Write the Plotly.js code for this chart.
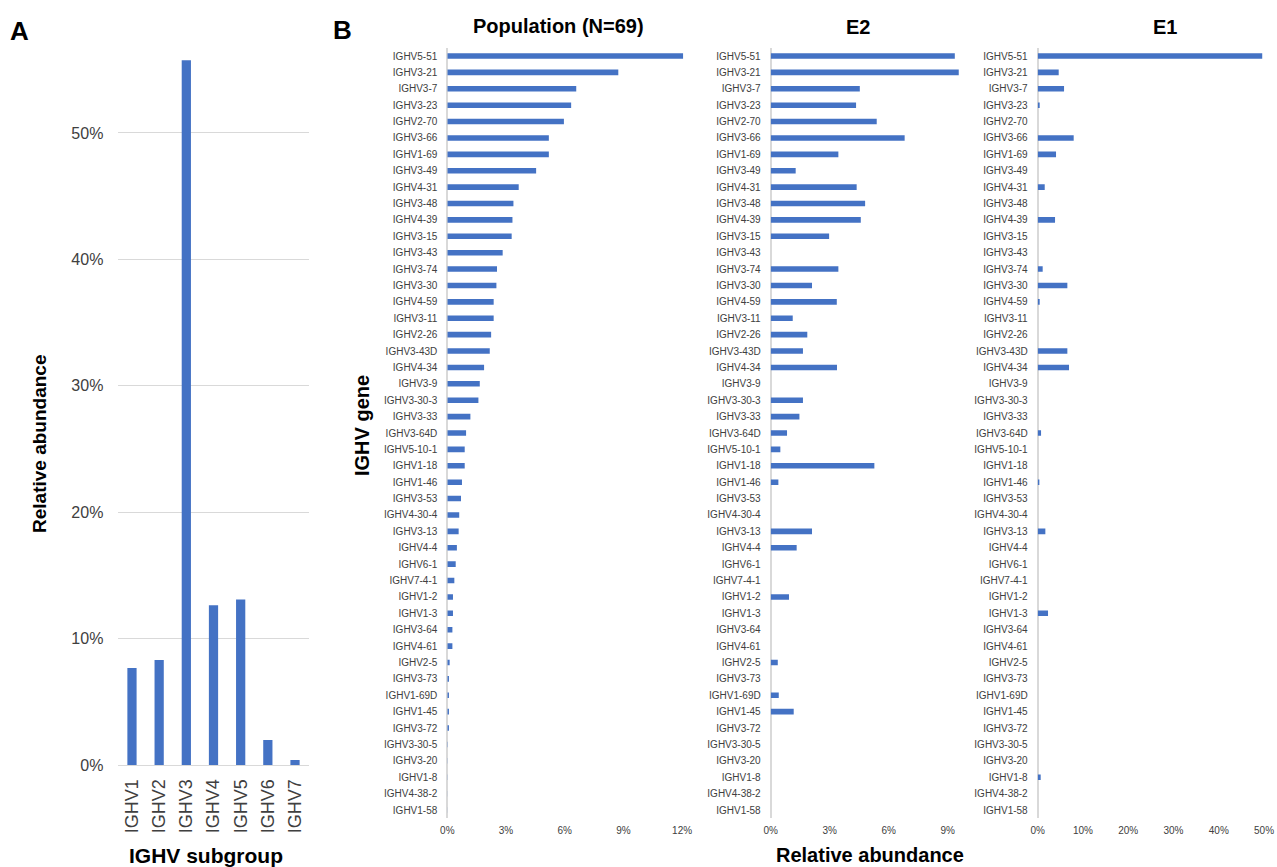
<!DOCTYPE html>
<html>
<head>
<meta charset="utf-8">
<script src="https://cdn.plot.ly/plotly-3.0.1.min.js"></script>
<style>html,body{margin:0;padding:0;background:#fff;}#chart{width:1277px;height:867px;}</style>
</head>
<body>
<div id="chart"></div>
<script>
// Panel A data
const subgroups = ["IGHV1","IGHV2","IGHV3","IGHV4","IGHV5","IGHV6","IGHV7"];
const subgroupAbundance = [7.67, 8.31, 55.75, 12.64, 13.1, 1.97, 0.39];

// Panel B data
const genes = ["IGHV5-51","IGHV3-21","IGHV3-7","IGHV3-23","IGHV2-70","IGHV3-66","IGHV1-69","IGHV3-49",
  "IGHV4-31","IGHV3-48","IGHV4-39","IGHV3-15","IGHV3-43","IGHV3-74","IGHV3-30","IGHV4-59","IGHV3-11",
  "IGHV2-26","IGHV3-43D","IGHV4-34","IGHV3-9","IGHV3-30-3","IGHV3-33","IGHV3-64D","IGHV5-10-1","IGHV1-18",
  "IGHV1-46","IGHV3-53","IGHV4-30-4","IGHV3-13","IGHV4-4","IGHV6-1","IGHV7-4-1","IGHV1-2","IGHV1-3",
  "IGHV3-64","IGHV4-61","IGHV2-5","IGHV3-73","IGHV1-69D","IGHV1-45","IGHV3-72","IGHV3-30-5","IGHV3-20",
  "IGHV1-8","IGHV4-38-2","IGHV1-58"];
const population = [12.05,8.74,6.59,6.33,5.96,5.19,5.19,4.54,3.65,3.38,3.33,3.29,2.83,2.54,2.51,2.37,2.37,
  2.24,2.17,1.88,1.66,1.59,1.18,0.96,0.89,0.89,0.75,0.70,0.61,0.58,0.49,0.43,0.36,0.29,0.29,0.26,0.26,
  0.12,0.085,0.085,0.085,0.085,0.02,0.01,0.01,0.005,0.005];
const e2 = [9.36,9.56,4.53,4.34,5.39,6.81,3.44,1.27,4.37,4.80,4.58,2.97,0,3.44,2.10,3.36,1.12,
  1.86,1.64,3.37,0,1.64,1.46,0.83,0.49,5.27,0.39,0,0,2.10,1.32,0,0,0.93,0,0,0,
  0.36,0,0.41,1.17,0,0,0,0,0,0];
const e1 = [49.6,4.64,5.82,0.44,0,7.95,4.05,0,1.55,0,3.83,0,0,1.10,6.55,0.44,0,
  0,6.55,6.92,0,0,0,0.74,0,0,0.37,0,0,1.69,0,0,0,0,2.28,0,0,
  0,0,0,0,0,0,0,0.66,0,0];

const W = 1277, H = 867;
const px = v => v / W;
const py = v => 1 - v / H;
const BLUE = "#4472C4";
const TICK = {family: "Liberation Sans, Arial, sans-serif", size: 10, color: "#404040"};

const traces = [
  {type:"bar", x: subgroups, y: subgroupAbundance, marker:{color:BLUE}, xaxis:"x", yaxis:"y", hoverinfo:"x+y"},
  {type:"bar", orientation:"h", y: genes, x: population, marker:{color:BLUE}, xaxis:"x2", yaxis:"y2"},
  {type:"bar", orientation:"h", y: genes, x: e2, marker:{color:BLUE}, xaxis:"x3", yaxis:"y3"},
  {type:"bar", orientation:"h", y: genes, x: e1, marker:{color:BLUE}, xaxis:"x4", yaxis:"y4"}
];

const yDomB = [py(818.2), py(47.8)];
function catAxis(anchor) {
  return {
    domain: yDomB, anchor: anchor, type: "category",
    categoryorder: "array", categoryarray: genes, autorange: "reversed",
    showgrid: false, zeroline: false, showline: false,
    ticks: "", ticklabelstandoff: 9,
    tickfont: TICK, fixedrange: true
  };
}
function valAxis(anchor, d0, d1, range, dtick) {
  return {
    domain: [px(d0), px(d1)], anchor: anchor, range: range, dtick: dtick, tick0: 0,
    ticksuffix: "%", showgrid: false, zeroline: true, zerolinecolor: "#d9d9d9", zerolinewidth: 2,
    showline: false, ticks: "", ticklabelstandoff: 5, tickfont: TICK
  };
}

const layout = {
  width: W, height: H,
  margin: {l:0, r:0, t:0, b:0},
  paper_bgcolor: "#fff", plot_bgcolor: "rgba(0,0,0,0)",
  showlegend: false, bargap: 0.66,
  font: {family: "Liberation Sans, Arial, sans-serif", color: "#000"},
  xaxis: {
    domain: [px(118.4), px(308.6)], anchor: "y", type: "category",
    tickangle: -90, ticks: "", showline: true, linecolor: "#d9d9d9", linewidth: 1,
    tickfont: {family: "Liberation Sans, Arial, sans-serif", size: 18, color: "#404040"},
    ticklabelstandoff: 6
  },
  yaxis: {
    domain: [py(765), py(54.6)], anchor: "x", range: [0, 56.2], dtick: 10, tick0: 0,
    ticksuffix: "%", showgrid: true, gridcolor: "#d9d9d9", gridwidth: 1,
    zeroline: false, showline: false, ticks: "", ticklabelstandoff: 14,
    tickfont: {family: "Liberation Sans, Arial, sans-serif", size: 16, color: "#404040"}
  },
  xaxis2: valAxis("y2", 447.3, 686.0, [0, 12.2], 3),
  yaxis2: catAxis("x2"),
  xaxis3: valAxis("y3", 770.7, 961.5, [0, 9.7], 3),
  yaxis3: catAxis("x3"),
  xaxis4: valAxis("y4", 1037.7, 1266.3, [0, 50.5], 10),
  yaxis4: catAxis("x4"),
  annotations: [
    {text:"<b>A</b>", x:px(19), y:py(31), font:{size:26}},
    {text:"<b>B</b>", x:px(342), y:py(30), font:{size:26}},
    {text:"<b>Relative abundance</b>", x:px(40), y:py(444), textangle:-90, font:{size:19}},
    {text:"<b>IGHV subgroup</b>", x:px(206), y:py(855), font:{size:21}},
    {text:"<b>Population (N=69)</b>", x:px(558), y:py(26), font:{size:20}},
    {text:"<b>E2</b>", x:px(858), y:py(27), font:{size:20}},
    {text:"<b>E1</b>", x:px(1165), y:py(27), font:{size:20}},
    {text:"<b>IGHV gene</b>", x:px(362), y:py(426), textangle:-90, font:{size:20}},
    {text:"<b>Relative abundance</b>", x:px(870), y:py(855), font:{size:20}}
  ].map(a => Object.assign({xref:"paper", yref:"paper", showarrow:false, xanchor:"center", yanchor:"middle"}, a))
};

Plotly.newPlot("chart", traces, layout, {displayModeBar:false, staticPlot:true});
</script>
</body>
</html>
